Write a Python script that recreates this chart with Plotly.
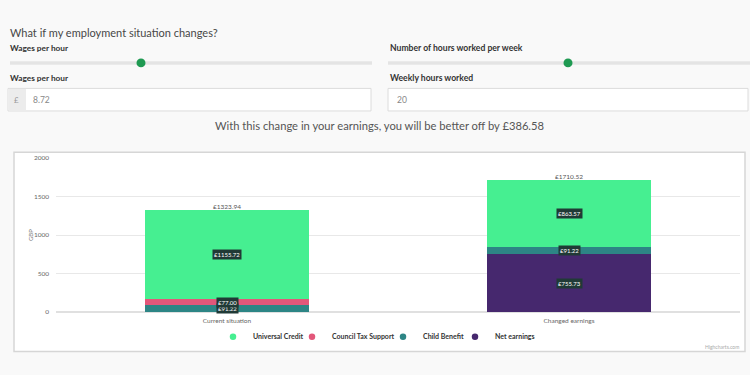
import plotly.graph_objects as go

W, H = 750, 375

categories = ["Current situation", "Changed earnings"]
net_earnings = [0, 755.73]
child_benefit = [91.22, 91.22]
council_tax_support = [77.00, 0]
universal_credit = [1155.72, 863.57]
totals = [1323.94, 1710.52]

series_names = ["Net earnings", "Child Benefit", "Council Tax Support", "Universal Credit"]
series_values = [net_earnings, child_benefit, council_tax_support, universal_credit]
series_colors = ["#46286e", "#2d8585", "#e2577a", "#46ef91"]
legend_order = ["Universal Credit", "Council Tax Support", "Child Benefit", "Net earnings"]

y_ticks = [0, 500, 1000, 1500, 2000]

def px(x):
    return x / W

def py(y):
    return 1 - y / H

fig = go.Figure()

for name, vals, col in zip(series_names, series_values, series_colors):
    fig.add_trace(go.Bar(
        x=categories, y=vals, name=name, marker=dict(color=col, line=dict(width=0)),
        showlegend=False, hoverinfo="skip",
    ))

# legend entries with circle markers, one small legend per entry for spacing control
legend_ids = ["legend", "legend2", "legend3", "legend4"]
legend_marker_x = [232, 311, 402, 474]
for name, lid in zip(legend_order, legend_ids):
    col = series_colors[series_names.index(name)]
    fig.add_trace(go.Scatter(
        x=[None], y=[None], mode="markers", name=name, legend=lid,
        marker=dict(symbol="circle", size=6.5, color=col),
    ))

# totals above bars
fig.add_trace(go.Scatter(
    x=categories, y=totals, mode="text",
    text=[f"£{t:.2f}" for t in totals], textposition="top center",
    textfont=dict(size=6.5, color="#555", family="Lato"),
    showlegend=False, hoverinfo="skip",
))

annotations = []
# segment data labels
for ci, cat in enumerate(categories):
    base = 0
    for name, vals in zip(series_names, series_values):
        v = vals[ci]
        if v > 0:
            annotations.append(dict(
                x=cat, y=base + v / 2, xref="x", yref="y", text=f"£{v:.2f}",
                showarrow=False, font=dict(size=6, color="white", family="Lato"),
                bgcolor="#203a36", borderpad=1,
            ))
        base += v

def text_ann(x, y, t, size, color, xanchor="left", family="Lato", weight="normal"):
    annotations.append(dict(
        x=px(x), y=py(y), xref="paper", yref="paper", text=t, showarrow=False,
        xanchor=xanchor, yanchor="middle",
        font=dict(size=size, color=color, family=family, weight=weight),
    ))

text_ann(8, 29, "What if my employment situation changes?", 11, "#474747")
text_ann(8, 45, "Wages per hour", 8.3, "#333", weight="bold")
text_ann(388, 45, "Number of hours worked per week", 8.6, "#333", weight="bold")
text_ann(8, 75, "Wages per hour", 8.3, "#333", weight="bold")
text_ann(388, 75, "Weekly hours worked", 8.6, "#333", weight="bold")
text_ann(12, 97.5, "£", 8, "#999")
text_ann(31, 97.5, "8.72", 8.5, "#888")
text_ann(395, 97.5, "20", 8.5, "#888")
text_ann(379, 124, "With this change in your earnings, you will be better off by £386.58", 11.2, "#555",
         xanchor="center")
text_ann(741, 350, "Highcharts.com", 5, "#aaa", xanchor="right")
annotations.append(dict(
    x=px(25), y=py(236), xref="paper", yref="paper", text="GBP", showarrow=False,
    textangle=-90, font=dict(size=6, color="#777", family="Lato"),
))

shapes = []
# chart container
shapes.append(dict(type="rect", xref="paper", yref="paper", x0=px(14), x1=px(745), y0=py(354), y1=py(151),
                   fillcolor="white", line=dict(color="#d6d6d6", width=1.5), layer="below"))
# slider tracks
shapes.append(dict(type="line", xref="paper", yref="paper", x0=px(10), x1=px(372), y0=py(60), y1=py(60),
                   line=dict(color="#e4e4e4", width=3.5)))
shapes.append(dict(type="line", xref="paper", yref="paper", x0=px(388), x1=px(750), y0=py(60), y1=py(60),
                   line=dict(color="#e4e4e4", width=3.5)))
# knobs
for kx in (141, 568):
    shapes.append(dict(type="circle", xref="paper", yref="paper", x0=px(kx - 4.5), x1=px(kx + 4.5),
                       y0=py(64.5), y1=py(55.5), fillcolor="#1f9a52", line=dict(width=0)))
# input boxes
shapes.append(dict(type="rect", xref="paper", yref="paper", x0=px(8), x1=px(371), y0=py(109), y1=py(86),
                   fillcolor="white", line=dict(color="#dcdcdc", width=1)))
shapes.append(dict(type="rect", xref="paper", yref="paper", x0=px(8.5), x1=px(26), y0=py(108.5), y1=py(86.5),
                   fillcolor="#ececec", line=dict(width=0)))
shapes.append(dict(type="rect", xref="paper", yref="paper", x0=px(388), x1=px(748), y0=py(109), y1=py(86),
                   fillcolor="white", line=dict(color="#dcdcdc", width=1)))

legend_layout = {}
for lid, mx in zip(legend_ids, legend_marker_x):
    legend_layout[lid] = dict(
        orientation="h", x=px(mx - 19), y=py(339), xanchor="left", yanchor="middle",
        font=dict(size=7, color="#333", family="Lato", weight="bold"), itemwidth=30,
        bgcolor="rgba(0,0,0,0)",
    )

fig.update_layout(
    width=W, height=H,
    margin=dict(l=0, r=0, t=0, b=0),
    paper_bgcolor="#f9f9f9",
    plot_bgcolor="rgba(0,0,0,0)",
    barmode="stack",
    bargap=0.52,
    font=dict(family="Lato", color="#666"),
    shapes=shapes,
    annotations=annotations,
    showlegend=True,
    xaxis=dict(
        domain=[px(56), px(740)], range=[-0.5, 1.5], type="category",
        showgrid=False, showline=False, ticks="", zeroline=False,
        tickfont=dict(size=6.5, color="#666"), ticklabelstandoff=3, fixedrange=True,
    ),
    yaxis=dict(
        domain=[py(314), py(157)], range=[0, 2000], tickvals=y_ticks,
        showgrid=True, gridcolor="#e8e8e8", gridwidth=1, zeroline=True, zerolinecolor="#e0e0e0",
        showline=False, ticks="", tickfont=dict(size=6.5, color="#666"), ticklabelstandoff=6,
        fixedrange=True,
    ),
    **legend_layout,
)

fig.write_html("out.html")
